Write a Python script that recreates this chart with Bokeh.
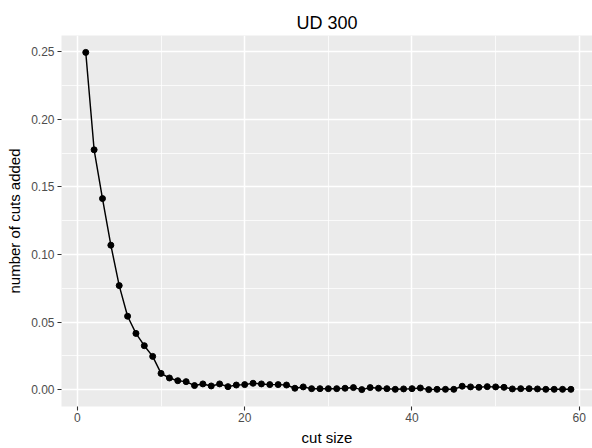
from bokeh.plotting import figure
from bokeh.models import FixedTicker, Title
from bokeh.embed import file_html
from bokeh.resources import INLINE

cut_size = list(range(1, 60))
cuts_added = [
    0.2496, 0.1775, 0.1414, 0.1069, 0.0770, 0.0543, 0.0416, 0.0325, 0.0246, 0.0120,
    0.0086, 0.0066, 0.0059, 0.0030, 0.0042, 0.0027, 0.0042, 0.0022, 0.0034, 0.0037,
    0.0047, 0.0042, 0.0037, 0.0037, 0.0034, 0.0010, 0.0020, 0.0007, 0.0007, 0.0007,
    0.0007, 0.0010, 0.0015, 0.0000, 0.0015, 0.0010, 0.0007, 0.0002, 0.0005, 0.0007,
    0.0012, 0.0000, 0.0002, 0.0002, 0.0002, 0.0025, 0.0020, 0.0017, 0.0022, 0.0020,
    0.0017, 0.0005, 0.0007, 0.0007, 0.0005, 0.0002, 0.0002, 0.0002, 0.0002,
]
x_ticks = [0, 20, 40, 60]
x_minor = [10, 30, 50]
y_ticks = [0.0, 0.05, 0.10, 0.15, 0.20, 0.25]
y_minor = [0.025, 0.075, 0.125, 0.175, 0.225]
y_labels = {0.0: "0.00", 0.05: "0.05", 0.1: "0.10", 0.15: "0.15", 0.2: "0.20", 0.25: "0.25"}

FONT = "Liberation Sans"

p = figure(width=592, height=448, output_backend="svg", toolbar_location=None,
           x_range=(-1.9, 61.58), y_range=(-0.0125, 0.2621),
           min_border_left=61, min_border_right=0, min_border_top=35, min_border_bottom=40)

p.background_fill_color = "#EBEBEB"
p.border_fill_color = "white"
p.outline_line_color = None

p.title = Title(text="UD 300", align="center", text_font=FONT, text_font_size="18px",
                text_font_style="normal", text_color="black", standoff=6)

for ax in (p.xaxis[0], p.yaxis[0]):
    ax.axis_line_color = None
    ax.major_tick_line_color = "#333333"
    ax.major_tick_line_width = 1.1
    ax.major_tick_out = 4
    ax.major_tick_in = 0
    ax.minor_tick_line_color = None
    ax.major_label_text_font = FONT
    ax.major_label_text_font_size = "12px"
    ax.major_label_text_color = "#4D4D4D"
    ax.axis_label_text_font = FONT
    ax.axis_label_text_font_size = "15px"
    ax.axis_label_text_font_style = "normal"
    ax.axis_label_text_color = "black"
    ax.major_label_standoff = 2

p.xaxis.ticker = FixedTicker(ticks=x_ticks, minor_ticks=x_minor)
p.yaxis.ticker = FixedTicker(ticks=y_ticks, minor_ticks=y_minor)
p.yaxis.major_label_overrides = y_labels
p.yaxis.major_label_standoff = 3
p.xaxis.axis_label = "cut size"
p.yaxis.axis_label = "number of cuts added"
p.xaxis.axis_label_standoff = 4
p.yaxis.axis_label_standoff = 5

for g in (p.xgrid[0], p.ygrid[0]):
    g.grid_line_color = "white"
    g.grid_line_width = 1.5
    g.minor_grid_line_color = "white"
    g.minor_grid_line_width = 0.75

p.line(cut_size, cuts_added, line_color="black", line_width=1.45)
p.scatter(cut_size, cuts_added, size=6, fill_color="black", line_color="black")

open("out.html", "w").write(file_html(p, INLINE))
